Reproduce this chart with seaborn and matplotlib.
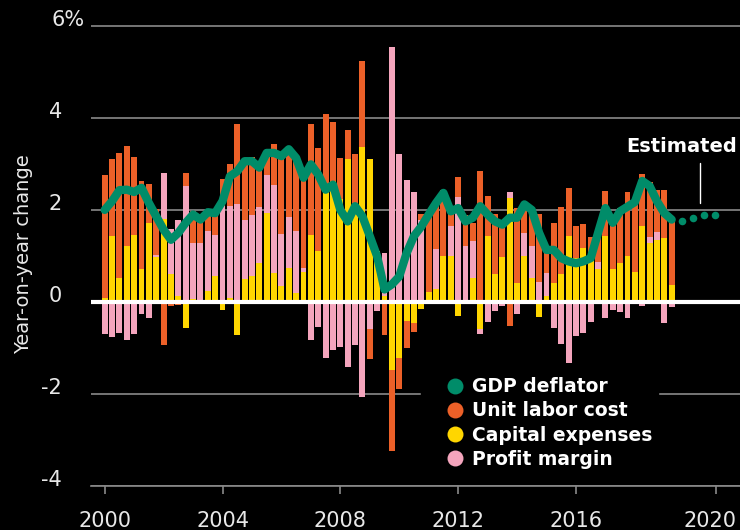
import numpy as np
import pandas as pd
import matplotlib
matplotlib.use("Agg")
import matplotlib.pyplot as plt
import matplotlib.transforms as mtransforms
from matplotlib.lines import Line2D
import seaborn as sns

sns.set_theme(style="dark")
plt.rcParams['font.family'] = ['DejaVu Sans']

# ---------------------------
# data: quarterly, 2000Q1 .. 2019Q2 (year-on-year % change)
# ---------------------------
capital_expenses = [
    0.08, 1.44, 0.52, 1.22, 1.46, 0.71, 1.72, 0.97, 1.81, 0.61, 0.13, -0.57,
    0.06, 0.00, 0.24, 0.57, -0.17, 0.09, -0.72, 0.50, 0.57, 0.85, 1.93, 0.63,
    0.35, 0.74, 0.20, 0.65, 1.46, 1.11, 2.40, 2.62, 2.23, 3.10, 2.08, 3.36,
    3.10, 1.11, 0.12, -1.48, -1.22, -0.41, -0.46, -0.15, 0.22, 0.28, 1.00, 1.00,
    -0.31, 0.04, 0.52, -0.59, 1.44, 0.61, 0.98, 2.25, 0.41, 1.00, 0.52, -0.33,
    0.13, 0.41, 0.61, 1.44, 0.96, 1.18, 0.92, 0.72, 1.44, 0.72, 0.85, 1.00,
    0.65, 1.64, 1.29, 1.35, 1.38, 0.37,
]
profit_margin = [
    -0.70, -0.76, -0.68, -0.83, -0.70, -0.26, -0.35, 0.04, 1.00, 0.98, 1.66, 2.53,
    1.22, 1.29, 1.31, 0.89, 2.09, 2.00, 2.12, 1.27, 1.33, 1.22, 0.84, 1.92,
    1.13, 1.11, 1.35, 0.09, -0.83, -0.55, -1.22, -1.05, -0.98, -1.42, -0.94, -2.07,
    -0.59, -0.20, 0.95, 5.54, 3.21, 2.66, 2.38, 1.79, 0.00, 0.88, 0.00, 0.66,
    2.29, 1.18, 0.81, -0.11, -0.44, -0.20, -0.09, 0.15, -0.26, 0.50, 0.70, 0.44,
    0.50, -0.57, -0.92, -1.33, -0.74, -0.68, -0.44, 0.15, -0.35, -0.17, -0.22, -0.35,
    0.00, -0.09, 0.11, 0.18, -0.46, -0.11,
]
unit_labor_cost = [
    2.67, 1.66, 2.71, 2.16, 1.70, 1.91, 0.85, 1.00, -0.94, -0.08, -0.07, 0.28,
    0.69, 0.54, 0.45, 0.40, 0.59, 0.90, 1.76, 1.33, 1.26, 0.85, 0.52, 0.88,
    1.72, 1.43, 1.65, 2.07, 2.42, 2.23, 1.68, 1.29, 0.91, 0.63, 1.13, 1.88,
    -0.65, 0.00, -0.72, -1.77, -0.68, -0.59, -0.20, 0.13, 1.71, 0.99, 1.44, 0.35,
    0.42, 0.68, 0.39, 2.84, 0.87, 1.31, 0.70, -0.52, 1.64, 0.58, 0.70, 1.48,
    0.50, 1.31, 1.46, 1.03, 0.68, 0.52, 0.48, 0.53, 0.98, 1.18, 1.20, 1.40,
    1.50, 1.15, 1.20, 0.91, 1.06, 1.40,
]
gdp_deflator = [
    2.00, 2.19, 2.43, 2.44, 2.39, 2.48, 2.15, 1.86, 1.57, 1.35, 1.50, 1.72,
    1.90, 1.79, 1.95, 1.93, 2.19, 2.73, 2.84, 3.06, 3.06, 2.92, 3.24, 3.24,
    3.17, 3.32, 3.13, 2.70, 2.99, 2.77, 2.44, 2.55, 2.00, 1.75, 2.08, 1.86,
    1.43, 0.99, 0.27, 0.38, 0.55, 1.06, 1.43, 1.64, 1.90, 2.15, 2.37, 1.97,
    2.04, 1.75, 1.83, 2.08, 1.90, 1.75, 1.68, 1.83, 1.83, 2.12, 2.00, 1.50,
    1.13, 1.13, 0.95, 0.88, 0.84, 0.88, 0.95, 1.50, 2.04, 1.72, 1.97, 2.07,
    2.17, 2.63, 2.52, 2.19, 1.93, 1.79,
]
estimated_x = [2019.61, 2019.98, 2020.36, 2020.73]
estimated = [1.75, 1.83, 1.88, 1.89]

year_ticks = [2000, 2004, 2008, 2012, 2016, 2020.75]
year_labels = ["2000", "2004", "2008", "2012", "2016", "2020"]
y_ticks = [-4, -2, 0, 2, 4, 6]
y_labels = ["-4", "-2", "0", "2", "4", "6%"]

df = pd.DataFrame({
    "year": 2000 + 0.25 * np.arange(len(gdp_deflator)),
    "Capital expenses": capital_expenses,
    "Profit margin": profit_margin,
    "Unit labor cost": unit_labor_cost,
    "GDP deflator": gdp_deflator,
})

GREEN = "#008C69"
ORANGE = "#EC6028"
YELLOW = "#FFD600"
PINK = "#F4A5BD"
GRID = "#8A8A8A"
TEXT = "#E8E8E8"

# ---------------------------
# figure
# ---------------------------
fig = plt.figure(figsize=(7.4, 5.3), dpi=100, facecolor="black")
ax = fig.add_axes([91 / 740, 44.3 / 530, 649 / 740, 462.4 / 530])
ax.set_facecolor("black")

# stacked bars: capital expenses innermost, then profit margin, then labor cost
pos_base = np.zeros(len(df))
neg_base = np.zeros(len(df))
for col, color in [("Capital expenses", YELLOW), ("Profit margin", PINK), ("Unit labor cost", ORANGE)]:
    v = df[col].to_numpy()
    base = np.where(v >= 0, pos_base, neg_base)
    ax.bar(df["year"], v, bottom=base, width=0.2, color=color, linewidth=0, zorder=2)
    pos_base += np.clip(v, 0, None)
    neg_base += np.clip(v, None, 0)

ax.axhline(0, color="white", lw=3, zorder=3)

sns.lineplot(data=df, x="year", y="GDP deflator", color=GREEN, lw=6, ax=ax, zorder=4)
for ln in ax.lines:
    ln.set_solid_joinstyle("round")
    ln.set_solid_capstyle("round")
sns.scatterplot(x=estimated_x, y=estimated, color=GREEN, s=30, linewidth=0, ax=ax, zorder=4)

# axes styling
ax.set_xlim(1999.535, 2021.57)
ax.set_ylim(-4, 6.06)
ax.set_yticks(y_ticks)
ax.set_yticklabels(y_labels)
ax.set_xticks(year_ticks)
ax.set_xticklabels(year_labels)
ax.yaxis.grid(True, color=GRID, lw=1.2)
ax.xaxis.grid(False)
ax.set_axisbelow(True)
for s in ["top", "right", "left"]:
    ax.spines[s].set_visible(False)
ax.spines["bottom"].set_color(GRID)
ax.spines["bottom"].set_linewidth(1.2)
ax.tick_params(axis="x", colors=GRID, direction="out", length=6, width=1.2,
               labelcolor=TEXT, labelsize=15, pad=12, bottom=True)
ax.tick_params(axis="y", length=0, labelcolor=TEXT, labelsize=15, pad=21)
for t in ax.get_yticklabels():
    t.set_verticalalignment("baseline")
# the "%" hangs to the right of the number column
top = ax.get_yticklabels()[-1]
top.set_horizontalalignment("left")
top.set_transform(top.get_transform() + mtransforms.ScaledTranslation(-10 / 100, 0, fig.dpi_scale_trans))
# last year label is nudged left so it stays inside the picture
last = ax.get_xticklabels()[-1]
last.set_transform(last.get_transform() + mtransforms.ScaledTranslation(-6 / 100, 0, fig.dpi_scale_trans))

ax.set_xlabel("")
ax.set_ylabel("Year-on-year change", color=TEXT, fontsize=14)
ax.yaxis.set_label_coords(-0.089, 0.5)

# estimated annotation
ax.text(2021.48, 3.37, "Estimated", color="white", fontsize=14, fontweight="bold",
        ha="right", va="center")
ax.plot([2020.2, 2020.2], [2.16, 3.03], color="white", lw=1)

# legend
handles = [Line2D([], [], ls="none", marker="o", ms=11.5, color=c, mec="none")
           for c in [GREEN, ORANGE, YELLOW, PINK]]
leg = ax.legend(handles, ["GDP deflator", "Unit labor cost", "Capital expenses", "Profit margin"],
                loc="upper left", bbox_to_anchor=(0.508, 0.247), borderaxespad=0,
                frameon=True, facecolor="black", edgecolor="black", framealpha=1,
                fontsize=13.5, handlelength=3.03, handletextpad=-0.61,
                borderpad=0.3, labelspacing=0.28, numpoints=1)
leg.set_zorder(5)
for t in leg.get_texts():
    t.set_color("white")
    t.set_fontweight("bold")

fig.savefig("out.png", dpi=100, facecolor="black")
